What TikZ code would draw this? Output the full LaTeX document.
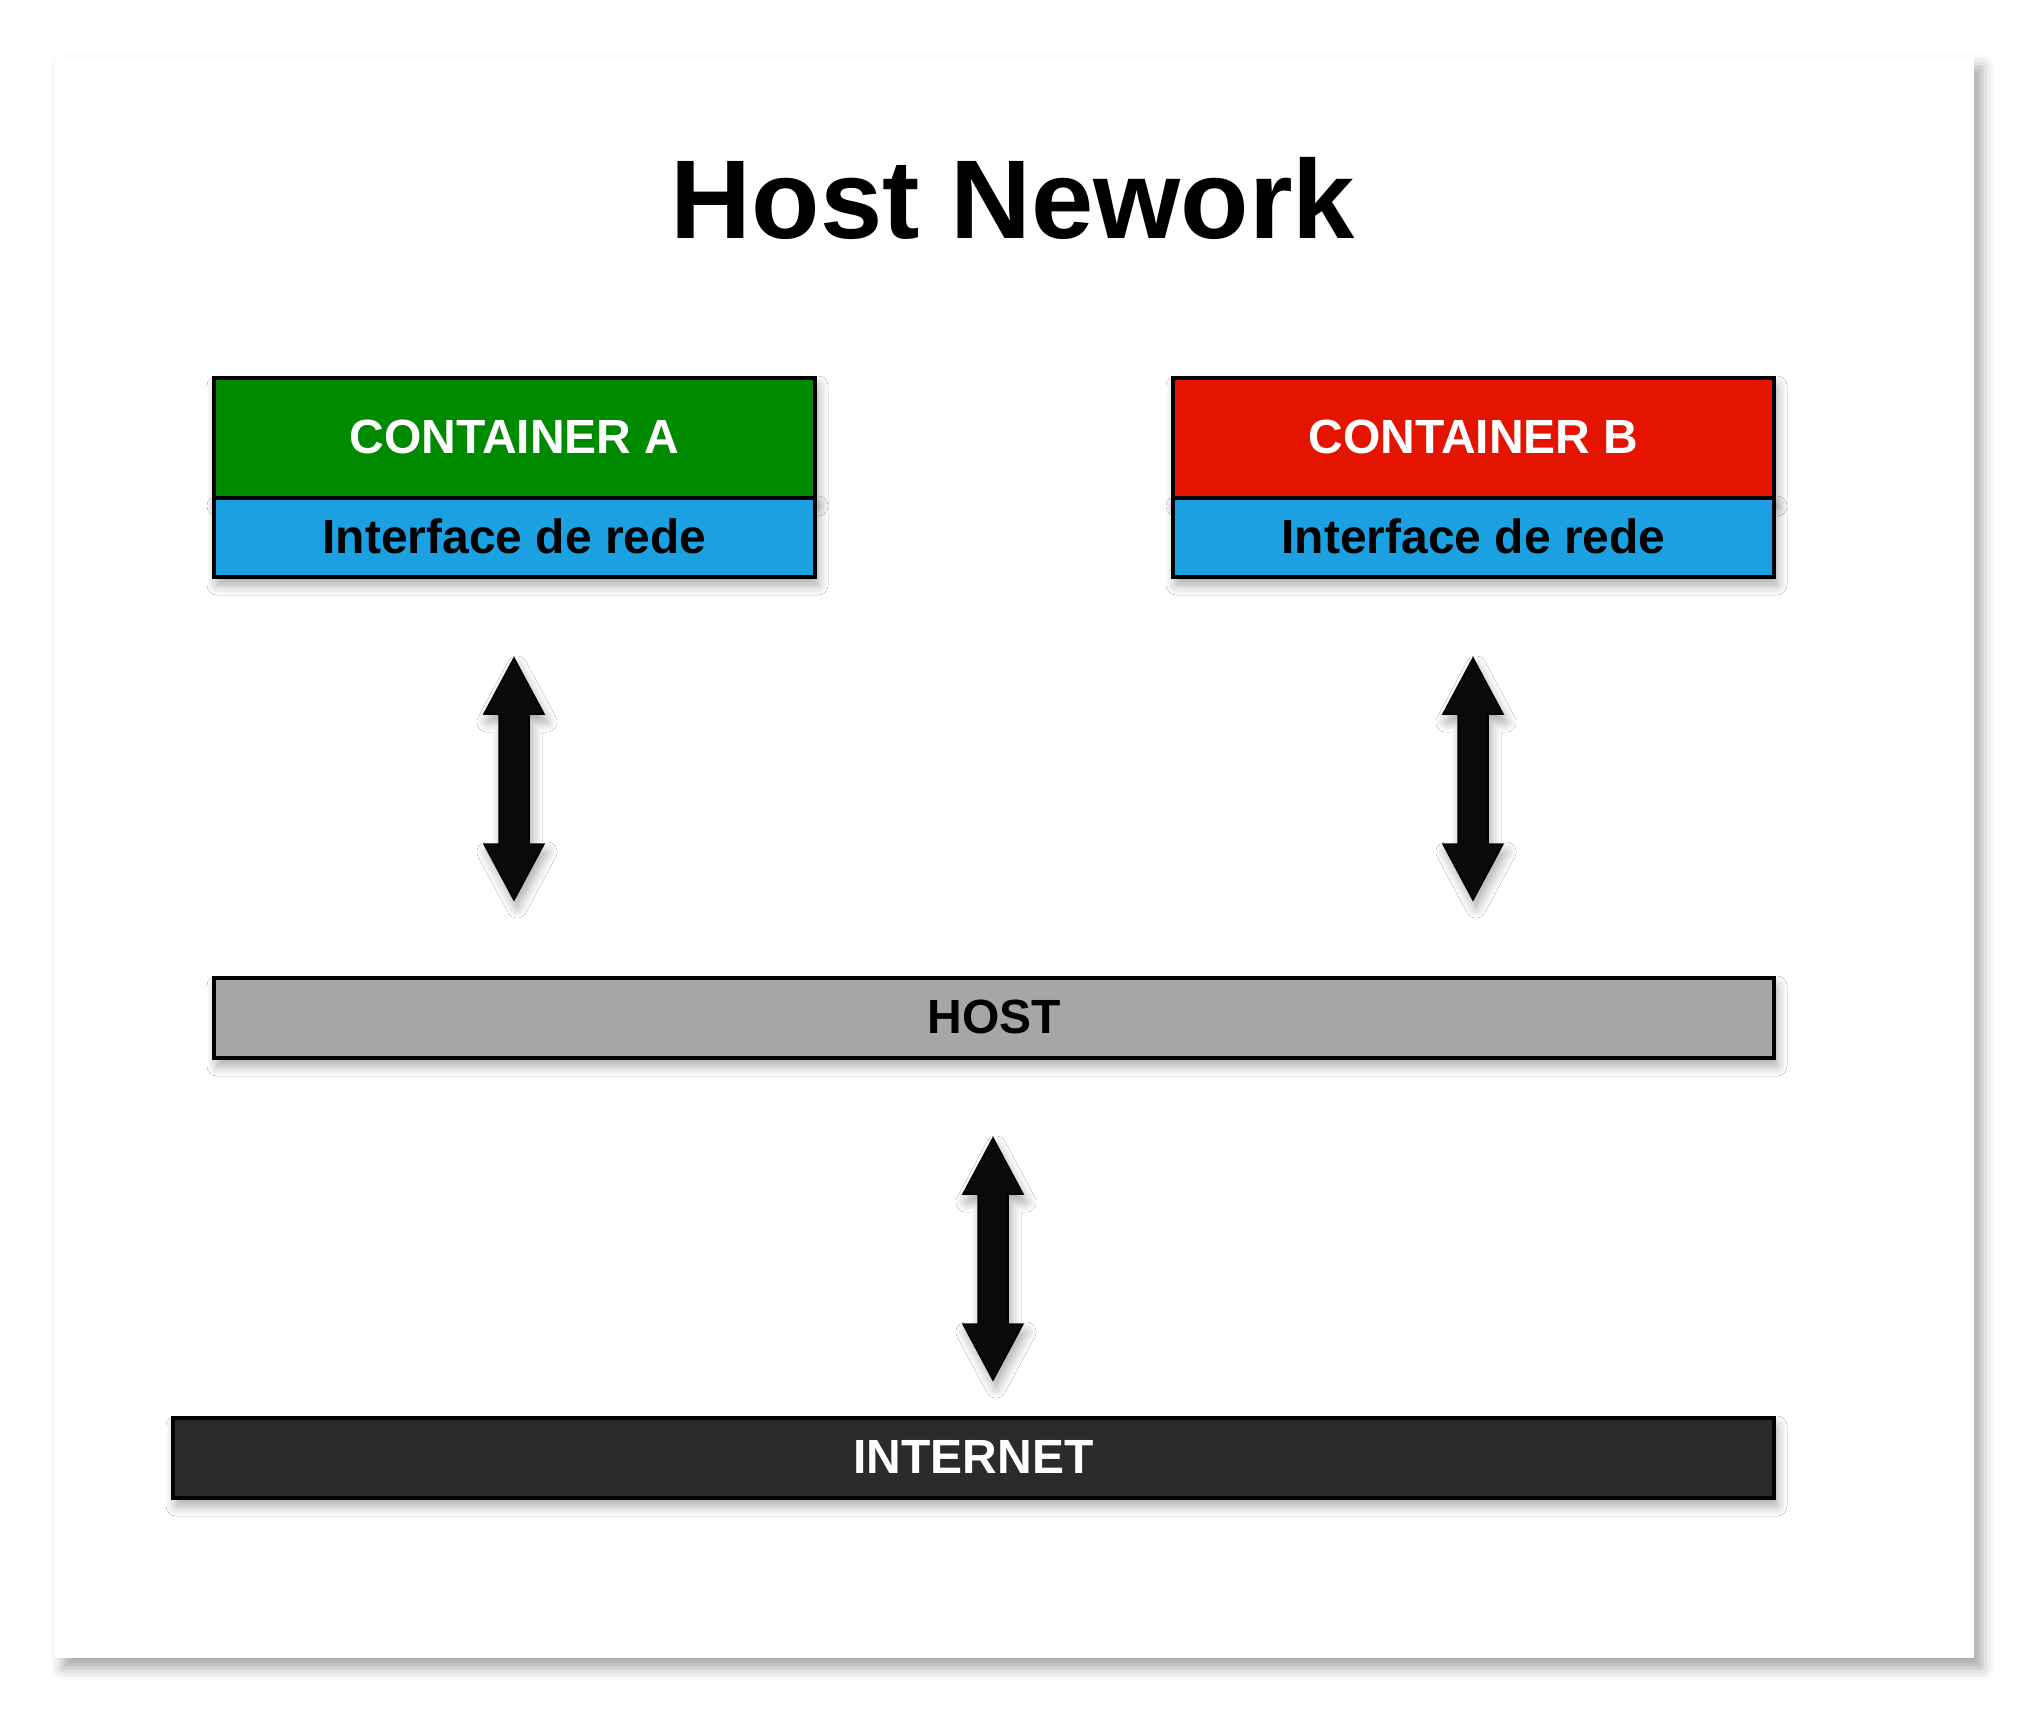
\documentclass[tikz,border=0pt]{standalone}
\usepackage{fontspec}
\setmainfont{Liberation Sans}
\usetikzlibrary{shadows.blur}
\definecolor{cgreen}{HTML}{008A00}
\definecolor{cred}{HTML}{E51400}
\definecolor{cblue}{HTML}{1BA1E2}
\definecolor{cgray}{HTML}{A6A6A6}
\definecolor{cdark}{HTML}{2B2B2B}
\definecolor{carrow}{HTML}{0A0A0A}
\begin{document}
\begin{tikzpicture}[x=0.5pt,y=-0.5pt,
  shad/.style={blur shadow={shadow xshift=1.5pt, shadow yshift=-4pt, shadow blur radius=5pt, shadow blur steps=10, shadow opacity=35}},
  box/.style={draw=black, line width=2pt, inner sep=0pt, shad,
    font=\fontsize{24}{28}\selectfont\bfseries},
  top/.style={box, minimum width=300.5pt, minimum height=60pt, text=white},
  iface/.style={box, fill=cblue, minimum width=300.5pt, minimum height=39.5pt, text=black},
  bar/.style={box, minimum height=40pt},
  dbl/.pic={\fill[carrow, draw=black, line width=0.75pt, shad]
     (0,0) -- (30,56) -- (15,56) -- (15,186) -- (30,186) -- (0,242)
     -- (-30,186) -- (-15,186) -- (-15,56) -- (-30,56) -- cycle;}]
\useasboundingbox (0,0) rectangle (2044,1732);
\fill[white, blur shadow={shadow xshift=4pt, shadow yshift=-5pt, shadow blur radius=6pt, shadow opacity=35}]
  (55,57) rectangle (1974,1658);
\node[anchor=base, font=\fontsize{56}{60}\selectfont\bfseries] (title) at (1013,239) {Host Nework};
% containers
\node[top, fill=cgreen] (ca) at (514.5,438) {\raisebox{1.5pt}{CONTAINER A}};
\node[iface] (ia) at (514.5,537.5) {\raisebox{1.5pt}{Interface de rede}};
\node[top, fill=cred] (cb) at (1473.5,438) {\raisebox{1.5pt}{CONTAINER B}};
\node[iface] (ib) at (1473.5,537.5) {\raisebox{1.5pt}{Interface de rede}};
% host and internet
\node[bar, fill=cgray, minimum width=780pt, text=black] (host) at (994,1018) {\raisebox{1.5pt}{HOST}};
\node[bar, fill=cdark, minimum width=800.5pt, text=white] (net) at (973.5,1458) {\raisebox{1.5pt}{INTERNET}};
% arrows
\pic (arrA) at (514,658) {dbl};
\pic (arrB) at (1473,658) {dbl};
\pic (arrH) at (993,1138) {dbl};
\end{tikzpicture}
\end{document}
